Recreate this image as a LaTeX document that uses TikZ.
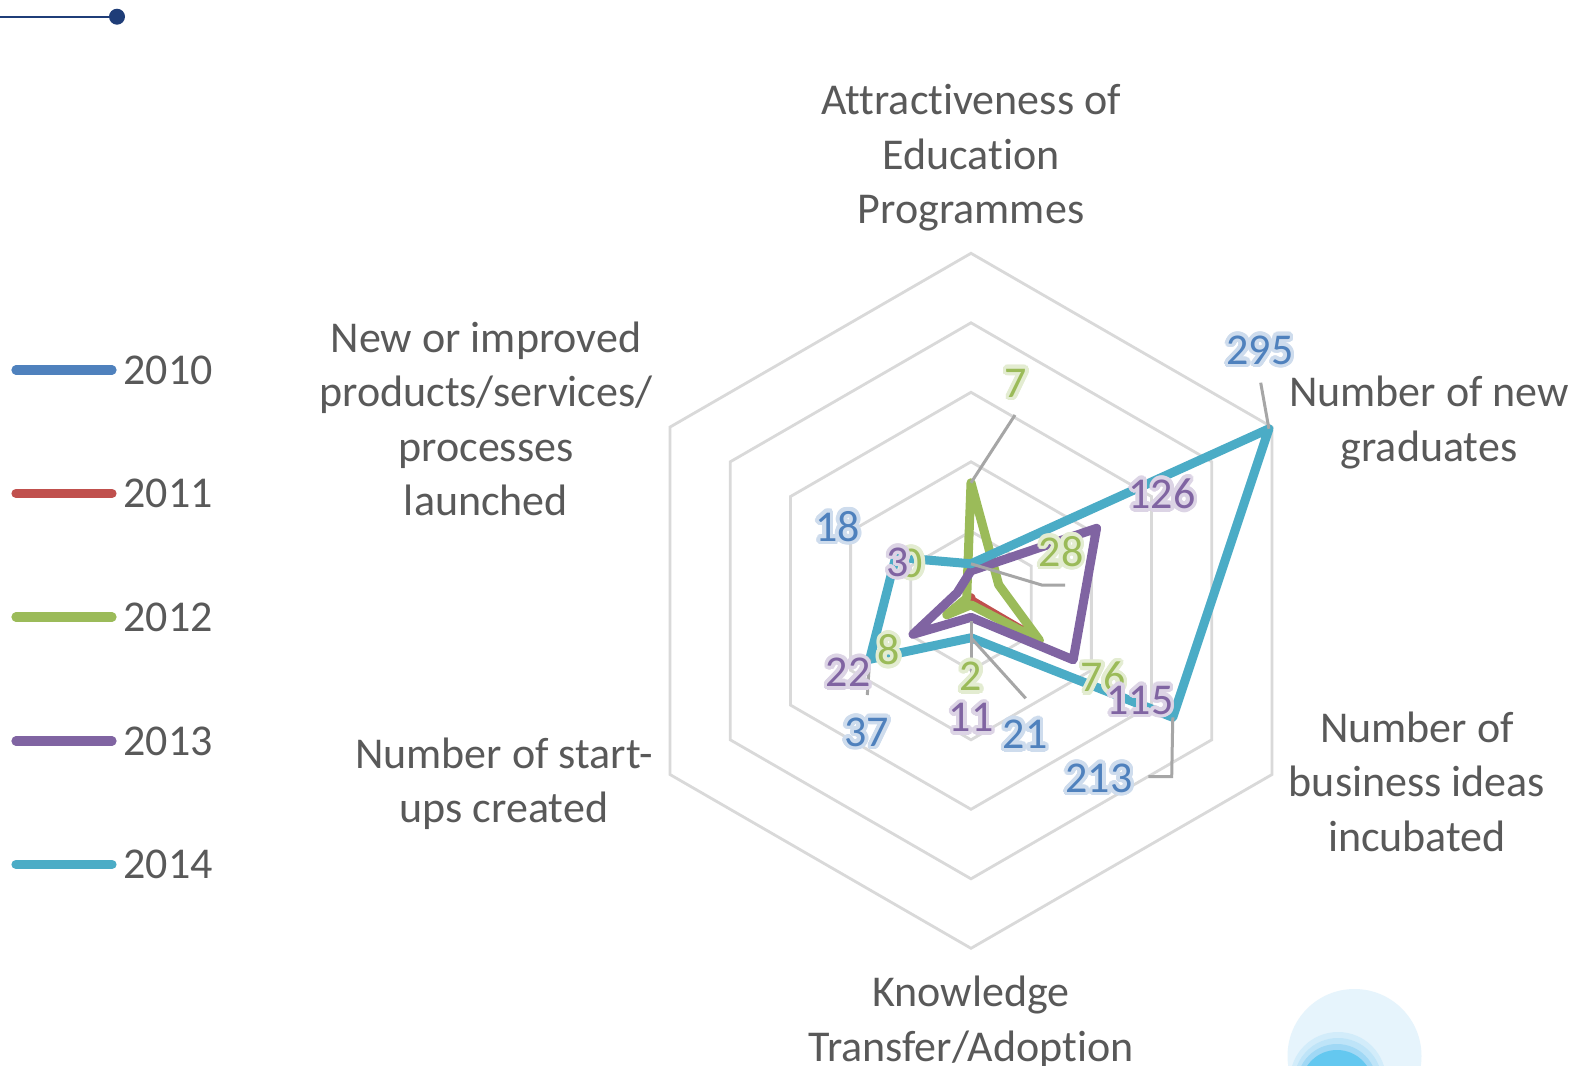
\documentclass[tikz,border=0pt]{standalone}
\usepackage{fontspec}
\setmainfont{Carlito}[Ligatures=NoCommon]
\usepackage{contour}
\contourlength{1.8pt}
\contournumber{24}
\definecolor{c10}{HTML}{4F81BD}
\definecolor{c11}{HTML}{C0504D}
\definecolor{c12}{HTML}{9BBB59}
\definecolor{c13}{HTML}{8064A2}
\definecolor{c14}{HTML}{4BACC6}
\definecolor{gridc}{HTML}{D9D9D9}
\definecolor{leadc}{HTML}{A6A6A6}
\definecolor{txtc}{HTML}{595959}
\definecolor{navyc}{HTML}{1F3D78}
\tikzset{
  series/.style={line width=4.5pt, line join=round},
  gridline/.style={draw=gridc, line width=1.4pt},
  leader/.style={draw=leadc, line width=1.5pt},
  axlab/.style={text=txtc, align=center, inner sep=0pt, font=\fontsize{22}{27.25}\selectfont},
  dlab/.style={inner sep=0pt, font=\fontsize{22}{26}\selectfont},
  legkey/.style={line width=4.6pt, line cap=round},
  legtext/.style={text=txtc, anchor=west, inner sep=0pt, font=\fontsize{22}{26}\selectfont},
}
\newcommand{\glowlab}[2]{\contour{#1!28}{#2}}
\begin{document}
\begin{tikzpicture}[x=0.5pt,y=-0.5pt]
\useasboundingbox (0,0) rectangle (1581,1066);
\fill[white] (0,0) rectangle (1581,1066);

% top-left decoration
\coordinate (decoA) at (0,16.7);
\coordinate (decoB) at (117,16.7);
\draw[navyc, line width=1.2pt] (decoA) -- (decoB);
\fill[navyc] (decoB) circle (8);

% bottom-right circles
\fill[color={rgb,255:red,230;green,244;blue,252}] (1354.5,1056) circle (67);
\fill[color={rgb,255:red,210;green,236;blue,250}] (1338,1080) circle (48);
\fill[color={rgb,255:red,190;green,228;blue,248}] (1338,1082) circle (44);
\fill[color={rgb,255:red,160;green,216;blue,245}] (1337,1084) circle (40);
\fill[color={rgb,255:red,100;green,200;blue,240}] (1337,1086) circle (36);

% radar
\begin{scope}[shift={(971,600.8)}]
  \foreach \r in {69.5,139,208.5,278,347.5}
    \draw[gridline] (-90:\r) -- (-30:\r) -- (30:\r) -- (90:\r) -- (150:\r) -- (210:\r) -- cycle;
  % 2011
  \draw[series, c11] (-90:3) -- (-30:0.5) -- (30:60) -- (90:2) -- (150:3) -- (210:2) -- cycle;
  % 2012
  \draw[series, c12] (-90:118) -- (-30:32) -- (30:79) -- (90:4) -- (150:28) -- (210:5) -- cycle;
  % 2013
  \draw[series, c13] (-90:30) -- (-30:145) -- (30:118) -- (90:16.5) -- (150:67) -- (210:16) -- cycle;
  % 2014
  \draw[series, c14] (-90:37) -- (-30:344) -- (30:233) -- (90:37) -- (150:117) -- (210:87) -- cycle;
  % data points used by leaders
  \coordinate (p14ur) at (-30:344);
  \coordinate (p12top) at (-90:118);
  \coordinate (p14top) at (-90:37);
  \coordinate (p14bot) at (90:37);
  \coordinate (p14ll) at (150:117);
  \coordinate (p14lr) at (30:233);
\end{scope}

% leader line ends
\coordinate (e295) at (1260.7,382.7);
\coordinate (e7) at (1015,415);
\coordinate (m28) at (1041.7,585);
\coordinate (e28) at (1065,585);
\coordinate (s2) at (971,621);
\coordinate (e2) at (971,678);
\coordinate (e21) at (1025.7,698.3);
\coordinate (e37) at (867.3,695);
\coordinate (m213) at (1171.7,776.7);
\coordinate (e213) at (1148.3,776.7);

\draw[leader] (p14ur) -- (e295);
\draw[leader] (p12top) -- (e7);
\draw[leader] (p14top) -- (m28) -- (e28);
\draw[leader] (s2) -- (e2);
\draw[leader] (p14bot) -- (e21);
\draw[leader] (p14ll) -- (e37);
\draw[leader] (p14lr) -- (m213) -- (e213);

% data labels
\node[dlab, text=c12] (l7) at (1016,385) {\glowlab{c12}{7}};
\node[dlab, text=c12] (l28) at (1061,553) {\glowlab{c12}{28}};
\node[dlab, text=c12] (l0) at (912,565) {\glowlab{c12}{0}};
\node[dlab, text=c12] (l8) at (889,651.5) {\glowlab{c12}{8}};
\node[dlab, text=c12] (l2) at (971,678) {\glowlab{c12}{2}};
\node[dlab, text=c12] (l76) at (1103,679) {\glowlab{c12}{76}};
\node[dlab, text=c13] (l126) at (1162,495.5) {\glowlab{c13}{126}};
\node[dlab, text=c13] (l3) at (898,564) {\glowlab{c13}{3}};
\node[dlab, text=c13] (l22) at (848,674) {\glowlab{c13}{22}};
\node[dlab, text=c13] (l11) at (971,719.5) {\glowlab{c13}{11}};
\node[dlab, text=c13] (l115) at (1140,702) {\glowlab{c13}{115}};
\node[dlab, text=c10] (l295) at (1260,352) {\glowlab{c10}{295}};
\node[dlab, text=c10] (l18) at (837.5,528) {\glowlab{c10}{18}};
\node[dlab, text=c10] (l37) at (866.7,734) {\glowlab{c10}{37}};
\node[dlab, text=c10] (l21) at (1025,736) {\glowlab{c10}{21}};
\node[dlab, text=c10] (l213) at (1099,780) {\glowlab{c10}{213}};

% axis labels
\node[axlab] (axA) at (971,158) {Attractiveness of\\Education\\Programmes};
\node[axlab] (axB) at (1429,422.5) {Number of new\\graduates};
\node[axlab] (axC) at (1417,781.5) {Number of\\business ideas\\incubated};
\node[axlab] (axD) at (971,1022.5) {Knowledge\\Transfer/Adoption};
\node[axlab] (axE) at (504,784) {Number of start-\\ups created};
\node[axlab] (axF) at (486,419) {New or improved\\products/services/\\processes\\launched};

% legend
\foreach \yy/\cc/\tt/\nn in {370/c10/2010/a, 493.5/c11/2011/b, 617/c12/2012/c, 741/c13/2013/d, 864.5/c14/2014/e}{
  \coordinate (lk\nn1) at (16,\yy);
  \coordinate (lk\nn2) at (112,\yy);
  \draw[legkey, \cc] (lk\nn1) -- (lk\nn2);
  \node[legtext] (lt\nn) at (123,\yy) {\tt};
}
\end{tikzpicture}
\end{document}
